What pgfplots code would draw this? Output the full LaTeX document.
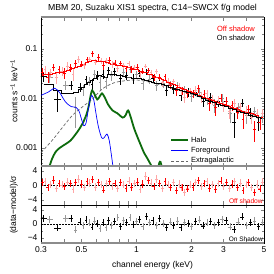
\documentclass[border=0pt]{standalone}
\usepackage{fontspec}
\setmainfont{Liberation Sans}
\usepackage{pgfplots}
\usepackage{pgfplotstable}
\pgfplotsset{compat=1.18}
\definecolor{halo}{rgb}{0.05,0.42,0.05}

% Off shadow: energy, half-width, rate, error, model, residual
\pgfplotstableread{
E ex y ey m r
0.305 0.0053 0.0341 0.0064 0.029 0.8
0.316 0.0055 0.0379 0.0066 0.030 1.2
0.327 0.0057 0.0271 0.0067 0.0305 -0.5
0.339 0.0059 0.0330 0.0068 0.031 0.3
0.351 0.0061 0.0426 0.0070 0.032 1.5
0.364 0.0064 0.0272 0.0073 0.033 -0.8
0.377 0.0066 0.0379 0.0074 0.0335 0.6
0.390 0.0068 0.0355 0.0075 0.034 0.2
0.404 0.0071 0.0327 0.0077 0.035 -0.3
0.419 0.0073 0.0451 0.0081 0.037 1.0
0.434 0.0076 0.0422 0.0084 0.038 0.5
0.449 0.0079 0.0312 0.0088 0.040 -1.0
0.465 0.0081 0.0503 0.0092 0.042 0.9
0.482 0.0084 0.0614 0.0097 0.044 1.8
0.499 0.0087 0.0496 0.0066 0.047 0.4
0.517 0.0090 0.0458 0.0070 0.050 -0.6
0.536 0.0094 0.0619 0.0074 0.053 1.2
0.555 0.0097 0.0615 0.0078 0.056 0.7
0.575 0.0101 0.0800 0.0110 0.060 1.6
0.595 0.0104 0.0548 0.0081 0.058 -0.4
0.617 0.0108 0.0680 0.0100 0.057 0.9
0.639 0.0112 0.0584 0.0078 0.056 0.3
0.662 0.0116 0.0458 0.0077 0.055 -1.2
0.685 0.0120 0.0575 0.0074 0.053 0.6
0.710 0.0124 0.0600 0.0073 0.052 1.1
0.735 0.0129 0.0486 0.0070 0.050 -0.2
0.762 0.0133 0.0524 0.0069 0.049 0.5
0.789 0.0138 0.0411 0.0066 0.047 -0.9
0.817 0.0143 0.0512 0.0064 0.046 0.8
0.846 0.0148 0.0463 0.0063 0.045 0.2
0.877 0.0153 0.0397 0.0062 0.044 -0.7
0.908 0.0159 0.0508 0.0060 0.043 1.3
0.941 0.0165 0.0387 0.0057 0.041 -0.4
0.974 0.0170 0.0423 0.0055 0.039 0.6
1.009 0.0177 0.0433 0.0053 0.038 1.0
1.045 0.0183 0.0305 0.0050 0.036 -1.1
1.083 0.0190 0.0359 0.0048 0.034 0.4
1.121 0.0196 0.0450 0.0046 0.033 2.6
1.162 0.0203 0.0371 0.0043 0.031 1.4
1.203 0.0211 0.0329 0.0042 0.030 0.7
1.246 0.0218 0.0267 0.0045 0.028 -0.3
1.291 0.0226 0.0348 0.0043 0.027 1.8
1.337 0.0234 0.0270 0.0040 0.025 0.5
1.385 0.0242 0.0209 0.0038 0.024 -0.8
1.435 0.0251 0.0274 0.0037 0.023 1.2
1.486 0.0260 0.0220 0.0034 0.021 0.3
1.539 0.0269 0.0184 0.0032 0.020 -0.5
1.594 0.0279 0.0217 0.0030 0.019 0.9
1.652 0.0289 0.0143 0.0029 0.018 -1.3
1.711 0.0299 0.0181 0.0027 0.017 0.4
1.772 0.0310 0.0145 0.0026 0.016 -0.6
1.835 0.0321 0.0104 0.0024 0.015 -1.9
1.901 0.0333 0.0124 0.0023 0.0145 -0.9
1.969 0.0345 0.0142 0.0022 0.0138 0.2
2.040 0.0357 0.0124 0.0021 0.0132 -0.4
2.113 0.0370 0.0149 0.0030 0.0125 0.8
2.188 0.0383 0.0158 0.0028 0.0118 1.4
2.267 0.0397 0.0107 0.0027 0.0112 -0.2
2.348 0.0411 0.0120 0.0025 0.0105 0.6
2.432 0.0426 0.0125 0.0024 0.0099 1.1
2.519 0.0441 0.0078 0.0023 0.0094 -0.7
2.609 0.0457 0.0096 0.0022 0.0090 0.3
2.703 0.0473 0.0065 0.0021 0.0086 -1.0
2.799 0.0490 0.0092 0.0020 0.0082 0.5
2.900 0.0508 0.0102 0.0019 0.0078 1.3
3.004 0.0526 0.0070 0.0018 0.0075 -0.3
3.111 0.0544 0.0088 0.0017 0.0072 0.9
3.222 0.0564 0.0056 0.0017 0.0069 -0.8
3.338 0.0584 0.0072 0.0016 0.0066 0.4
3.457 0.0605 0.0081 0.0015 0.0063 1.2
3.581 0.0627 0.0053 0.0014 0.0060 -0.5
3.710 0.0649 0.0068 0.0014 0.0058 0.7
3.842 0.0672 0.0037 0.0013 0.0056 -1.4
3.980 0.0697 0.0056 0.0013 0.0053 0.2
4.123 0.0722 0.0061 0.0012 0.0051 0.8
4.270 0.0747 0.0042 0.0012 0.0049 -0.6
4.423 0.0774 0.0024 0.0011 0.0047 -2.0
4.582 0.0802 0.0049 0.0011 0.0045 0.4
4.746 0.0831 0.0033 0.0010 0.0042 -0.9
4.916 0.0860 0.0051 0.0010 0.0041 1.0
}\offtab

% On shadow
\pgfplotstableread{
E ex y ey m r
0.31 0.012 0.0276 0.0057 0.019 1.5
0.335 0.012 0.0264 0.0057 0.019 1.3
0.37 0.015 0.0097 0.0044 0.0145 -1.1
0.41 0.015 0.0183 0.0038 0.0126 1.5
0.44 0.012 0.0186 0.0038 0.0126 1.6
0.465 0.01 0.0066 0.0041 0.0135 -1.7
0.49 0.01 0.0170 0.0033 0.015 0.6
0.51 0.009 0.0151 0.0037 0.017 -0.5
0.53 0.009 0.0240 0.0042 0.019 1.2
0.55 0.009 0.0224 0.0046 0.021 0.3
0.57 0.009 0.0190 0.0051 0.023 -0.8
0.59 0.009 0.0311 0.0057 0.026 0.9
0.61 0.009 0.0292 0.0062 0.028 0.2
0.63 0.01 0.0213 0.0064 0.029 -1.2
0.655 0.01 0.0311 0.0062 0.028 0.5
0.68 0.01 0.0217 0.0059 0.027 -0.9
0.705 0.011 0.0373 0.0066 0.030 1.1
0.73 0.011 0.0290 0.0068 0.031 -0.3
0.76 0.012 0.0346 0.0066 0.030 0.7
0.79 0.012 0.0405 0.0064 0.029 1.8
0.82 0.013 0.0252 0.0064 0.029 -0.6
0.85 0.013 0.0342 0.0062 0.028 1.0
0.885 0.014 0.0294 0.0059 0.027 0.4
0.92 0.015 0.0383 0.0059 0.027 1.9
0.96 0.016 0.0249 0.0057 0.026 -0.2
1.0 0.017 0.0306 0.0057 0.026 0.8
1.04 0.018 0.0322 0.0055 0.025 1.3
1.085 0.019 0.0203 0.0053 0.024 -0.7
1.13 0.02 0.0341 0.0051 0.023 2.2
1.18 0.021 0.0244 0.0048 0.022 0.5
1.23 0.022 0.0252 0.0042 0.021 1.0
1.285 0.023 0.0184 0.0040 0.020 -0.4
1.34 0.024 0.0260 0.0040 0.020 1.5
1.40 0.025 0.0198 0.0038 0.019 0.2
1.46 0.027 0.0148 0.0036 0.018 -0.9
1.53 0.028 0.0190 0.0034 0.017 0.6
1.60 0.03 0.0153 0.0033 0.0163 -0.3
1.67 0.032 0.0183 0.0031 0.0155 0.9
1.75 0.034 0.0118 0.0029 0.0147 -1.0
1.83 0.036 0.0151 0.0028 0.014 0.4
1.92 0.038 0.0136 0.0027 0.0133 0.1
2.01 0.04 0.0111 0.0025 0.0126 -0.6
2.11 0.043 0.0135 0.0024 0.0118 0.7
2.21 0.045 0.0134 0.0022 0.0108 1.2
2.32 0.048 0.0088 0.0020 0.0098 -0.5
2.43 0.05 0.0100 0.0026 0.0092 0.3
2.55 0.053 0.0106 0.0024 0.0087 0.8
2.68 0.056 0.0073 0.0023 0.0082 -0.4
2.81 0.06 0.0088 0.0022 0.0077 0.5
2.95 0.063 0.0100 0.0020 0.0072 1.4
3.10 0.067 0.0087 0.0019 0.0068 1.0
3.26 0.07 0.0050 0.0018 0.0064 -0.8
3.43 0.075 0.0033 0.0017 0.0060 -1.6
3.61 0.08 0.0065 0.0016 0.0056 0.6
3.80 0.085 0.0081 0.0015 0.0052 2.0
4.0 0.09 0.0045 0.0014 0.0049 -0.3
4.21 0.095 0.0052 0.0013 0.0046 0.5
4.43 0.1 0.0054 0.0012 0.0043 0.9
4.66 0.11 0.0033 0.0011 0.0041 -0.7
4.9 0.11 0.0043 0.0011 0.0039 0.4
}\ontab

\pgfplotstableread{
E y
0.335 0.00044
0.345 0.0006
0.36 0.00082
0.38 0.001
0.41 0.0012
0.435 0.0014
0.46 0.0018
0.49 0.0025
0.515 0.0035
0.535 0.005
0.55 0.0075
0.56 0.011
0.572 0.0145
0.59 0.012
0.61 0.0095
0.63 0.011
0.648 0.0126
0.67 0.0105
0.70 0.0075
0.74 0.0057
0.786 0.005
0.84 0.0041
0.87 0.0045
0.90 0.0057
0.93 0.0042
0.97 0.0025
1.01 0.0017
1.05 0.0012
1.10 0.0008
1.14 0.00064
1.19 0.00048
1.22 0.0004
1.27 0.00033
1.31 0.00038
1.335 0.0005
1.355 0.00052
1.38 0.0004
1.42 0.0003
}\halotab

\pgfplotstableread{
E y
0.30 0.0115
0.33 0.0135
0.357 0.016
0.38 0.013
0.40 0.0095
0.416 0.0079
0.44 0.0068
0.465 0.0066
0.485 0.0055
0.50 0.0038
0.515 0.0028
0.53 0.0032
0.545 0.006
0.56 0.010
0.57 0.0115
0.585 0.009
0.60 0.005
0.62 0.0026
0.645 0.0016
0.665 0.0016
0.69 0.0019
0.71 0.0014
0.73 0.0007
0.745 0.0004
}\fgtab

\pgfplotstableread{
E y
0.30 0.0008
0.35 0.0015
0.40 0.0028
0.45 0.0047
0.50 0.0065
0.57 0.0095
0.65 0.0155
0.75 0.0205
0.85 0.0225
1.0 0.0235
1.2 0.021
1.5 0.0168
2.0 0.0121
3.0 0.0074
4.0 0.0052
5.0 0.0039
}\egtab

\newcommand{\tf}{\fontsize{8.5}{10}\selectfont}

\begin{document}
\begin{tikzpicture}
\useasboundingbox (0,0) rectangle (274pt,274pt);

\begin{axis}[name=main, at={(41pt,108pt)}, anchor=south west,
  scale only axis, width=223pt, height=149pt,
  xmode=log, ymode=log, xmin=0.3, xmax=5, ymin=0.00043, ymax=0.44,
  xtick={0.3,0.4,0.5,0.6,0.7,0.8,0.9,1,2,3,4,5}, xticklabels={},
  ytick={0.001,0.01,0.1}, yticklabels={0.001,0.01,0.1},
  minor ytick={0.0005,0.0006,0.0007,0.0008,0.0009,0.002,0.003,0.004,0.005,0.006,0.007,0.008,0.009,0.02,0.03,0.04,0.05,0.06,0.07,0.08,0.09,0.2,0.3,0.4},
  tick align=inside, major tick length=3.5pt, minor tick length=2pt,
  ticklabel style={font=\tf},
  axis line style={line width=0.5pt},
  legend style={draw=none, fill=none, at={(0.565,0.225)}, anchor=north west,
    font=\fontsize{7.5}{8.5}\selectfont, row sep=-0.5pt},
  legend cell align=left,
]
\addplot[black!60, line width=0.7pt, dash pattern=on 3pt off 2pt, smooth, forget plot] table[x=E, y=y] {\egtab};
\addplot[draw=none, mark=none, forget plot, error bars/.cd, x dir=both, x explicit, y dir=both, y explicit, error mark=none,
  error bar style={draw=black!40, line width=0.55pt}]
  table[x=E, y=y, x error=ex, y error=ey] {\ontab};
\addplot[draw=none, mark=none, forget plot, each nth point=2, error bars/.cd, x dir=both, x explicit, y dir=both, y explicit, error mark=none,
  error bar style={draw=black, line width=0.5pt}]
  table[x=E, y=y, x error=ex, y error=ey] {\ontab};
\addplot[draw=none, mark=none, forget plot, error bars/.cd, x dir=both, x explicit, y dir=both, y explicit, error mark=none,
  error bar style={draw=red!35, line width=0.55pt}]
  table[x=E, y=y, x error=ex, y error=ey] {\offtab};
\addplot[draw=none, mark=none, forget plot, each nth point=2, error bars/.cd, x dir=both, x explicit, y dir=both, y explicit, error mark=none,
  error bar style={draw=red, line width=0.5pt}]
  table[x=E, y=y, x error=ex, y error=ey] {\offtab};
\addplot[red, line width=0.5pt, const plot mark mid, forget plot] table[x=E, y=m] {\offtab};
\addplot[black, line width=0.6pt, const plot mark mid, forget plot] table[x=E, y=m] {\ontab};
\addplot[halo, line width=1.8pt, smooth] table[x=E, y=y] {\halotab};
\addlegendentry{Halo}
\addplot[blue, line width=0.7pt, smooth] table[x=E, y=y] {\fgtab};
\addlegendentry{Foreground}
\addlegendimage{black!60, line width=0.7pt, dash pattern=on 3pt off 2pt}
\addlegendentry{Extragalactic}
\node[anchor=east, text=red, font=\fontsize{7.5}{9}\selectfont] at (rel axis cs:0.975,0.919) {Off shadow};
\node[anchor=east, text=black, font=\fontsize{7.5}{9}\selectfont] at (rel axis cs:0.975,0.859) {On shadow};
\end{axis}

\begin{axis}[name=r1, at={(41pt,69pt)}, anchor=south west,
  scale only axis, width=223pt, height=39pt,
  xmode=log, xmin=0.3, xmax=5, ymin=-5.4, ymax=5.4,
  xtick={0.3,0.4,0.5,0.6,0.7,0.8,0.9,1,2,3,4,5}, xticklabels={},
  ytick={-4,0,4}, yticklabels={−4,0,4}, minor ytick={-2,2},
  tick align=inside, major tick length=3.5pt, minor tick length=2pt,
  ticklabel style={font=\tf},
  axis line style={line width=0.5pt},
]
\addplot[black, densely dotted, line width=0.5pt] coordinates {(0.3,0) (5,0)};
\addplot[draw=none, mark=none, error bars/.cd, x dir=both, x explicit, y dir=both, y fixed=1, error mark=none,
  error bar style={draw=red!35, line width=0.55pt}]
  table[x=E, y=r, x error=ex] {\offtab};
\addplot[draw=none, mark=none, each nth point=2, error bars/.cd, x dir=both, x explicit, y dir=both, y fixed=1, error mark=none,
  error bar style={draw=red, line width=0.5pt}]
  table[x=E, y=r, x error=ex] {\offtab};
\node[anchor=south east, text=red, font=\fontsize{6.7}{8}\selectfont, inner sep=1pt] at (rel axis cs:1,0) {Off shadow};
\end{axis}

\begin{axis}[name=r2, at={(41pt,31pt)}, anchor=south west,
  scale only axis, width=223pt, height=38pt,
  xmode=log, xmin=0.3, xmax=5, ymin=-5.4, ymax=5.4,
  xtick={0.3,0.4,0.5,0.6,0.7,0.8,0.9,1,2,3,4,5}, xticklabels={0.3,,0.5,,,,,1,2,3,,5},
  ytick={-4,0,4}, yticklabels={−4,0,4}, minor ytick={-2,2},
  tick align=inside, major tick length=3.5pt, minor tick length=2pt,
  ticklabel style={font=\tf},
  axis line style={line width=0.5pt},
]
\addplot[black, densely dotted, line width=0.5pt] coordinates {(0.3,0) (5,0)};
\addplot[draw=none, mark=none, error bars/.cd, x dir=both, x explicit, y dir=both, y fixed=1, error mark=none,
  error bar style={draw=black!40, line width=0.55pt}]
  table[x=E, y=r, x error=ex] {\ontab};
\addplot[draw=none, mark=none, each nth point=2, error bars/.cd, x dir=both, x explicit, y dir=both, y fixed=1, error mark=none,
  error bar style={draw=black, line width=0.5pt}]
  table[x=E, y=r, x error=ex] {\ontab};
\node[anchor=south east, text=black, font=\fontsize{6.5}{8}\selectfont, inner sep=1pt] at (rel axis cs:1,0) {On Shadow};
\end{axis}

\draw[black!45, line width=1.1pt] (main.north west) -- (main.north east);
\draw[black!45, line width=1.1pt] (main.south west) -- (main.south east);
\draw[black!45, line width=1.1pt] (r2.south west) -- (r2.south east);

\node[font=\fontsize{8.7}{10}\selectfont] at (152.5pt,266pt) {MBM 20, Suzaku XIS1 spectra, C14−SWCX f/g model};
\node[rotate=90, font=\tf] at (14pt,183pt) {counts s\textsuperscript{−1} keV\textsuperscript{−1}};
\node[rotate=90, font=\tf] at (14pt,69pt) {(data−model)/σ};
\node[font=\tf] at (152.5pt,9pt) {channel energy (keV)};
\end{tikzpicture}
\end{document}
